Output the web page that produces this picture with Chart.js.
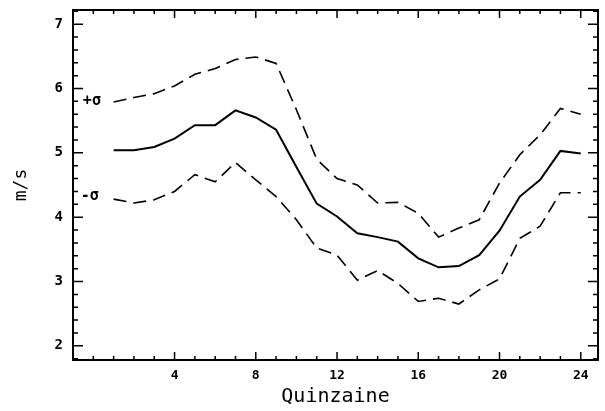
<!DOCTYPE html>
<html>
<head>
<meta charset="utf-8">
<script src="https://cdn.jsdelivr.net/npm/chart.js@4/dist/chart.umd.min.js"></script>
<style>
  body { margin: 0; background: #fff; }
  canvas { display: block; }
</style>
</head>
<body>
<canvas id="chart" width="605" height="411"></canvas>
<script>
// Data
const quinzaine = [1, 2, 3, 4, 5, 6, 7, 8, 9, 10, 11, 12, 13, 14, 15, 16, 17, 18, 19, 20, 21, 22, 23, 24];
const meanSpeed = [5.04, 5.04, 5.09, 5.22, 5.43, 5.43, 5.66, 5.55, 5.36, 4.78, 4.21, 4.01, 3.75, 3.69, 3.62, 3.36, 3.22, 3.24, 3.41, 3.79, 4.32, 4.58, 5.03, 4.99];
const plusSigma = [5.79, 5.86, 5.92, 6.04, 6.22, 6.31, 6.45, 6.49, 6.39, 5.67, 4.90, 4.60, 4.50, 4.22, 4.23, 4.06, 3.69, 3.83, 3.96, 4.53, 4.97, 5.28, 5.69, 5.60];
const minusSigma = [4.28, 4.22, 4.27, 4.40, 4.66, 4.55, 4.85, 4.58, 4.32, 3.96, 3.52, 3.41, 3.02, 3.17, 2.97, 2.69, 2.74, 2.65, 2.87, 3.04, 3.67, 3.86, 4.38, 4.38];
const xTicks = [4, 8, 12, 16, 20, 24];
const yTicks = [2, 3, 4, 5, 6, 7];

const FONT = '"DejaVu Sans Mono", monospace';

function points(values) {
    return quinzaine.map((q, i) => ({ x: q, y: values[i] }));
}

// Frame, inward ticks on all four sides, and the sigma labels
const framePlugin = {
    id: 'frame',
    afterDraw(chart) {
        const ctx = chart.ctx;
        const a = chart.chartArea;
        const xs = chart.scales.x;
        const ys = chart.scales.y;
        ctx.save();
        ctx.strokeStyle = '#000';
        ctx.lineWidth = 2;
        ctx.strokeRect(a.left, a.top, a.right - a.left, a.bottom - a.top);

        ctx.lineWidth = 1.5;
        ctx.beginPath();
        // x ticks, every unit, major at labelled values
        for (let v = 0; v <= 24; v++) {
            const px = xs.getPixelForValue(v);
            const len = xTicks.includes(v) ? 8 : 4;
            ctx.moveTo(px, a.bottom); ctx.lineTo(px, a.bottom - len);
            ctx.moveTo(px, a.top); ctx.lineTo(px, a.top + len);
        }
        // y ticks, every 0.2, major at labelled values
        for (let k = 18; k <= 72; k += 2) {
            const v = k / 10;
            const py = ys.getPixelForValue(v);
            const len = k % 10 === 0 ? 10 : 5;
            ctx.moveTo(a.left, py); ctx.lineTo(a.left + len, py);
            ctx.moveTo(a.right, py); ctx.lineTo(a.right - len, py);
        }
        ctx.stroke();

        ctx.fillStyle = '#000';
        ctx.font = 'bold 15px ' + FONT;
        ctx.textAlign = 'center';
        ctx.textBaseline = 'middle';
        ctx.fillText('+\u03c3', xs.getPixelForValue(-0.07), ys.getPixelForValue(5.80));
        ctx.fillText('-\u03c3', xs.getPixelForValue(-0.17), ys.getPixelForValue(4.33));
        ctx.restore();
    }
};

const dashed = [13, 7];

function noPadding(s) {
    s.paddingTop = 0; s.paddingBottom = 0; s.paddingLeft = 0; s.paddingRight = 0;
}

new Chart(document.getElementById('chart'), {
    type: 'line',
    data: {
        datasets: [
            { data: points(meanSpeed), borderColor: '#000', borderWidth: 2 },
            { data: points(plusSigma), borderColor: '#000', borderWidth: 1.6, borderDash: dashed },
            { data: points(minusSigma), borderColor: '#000', borderWidth: 1.6, borderDash: dashed }
        ]
    },
    options: {
        responsive: false,
        animation: false,
        events: [],
        layout: { padding: { top: 10, right: 7, left: 0, bottom: 0 } },
        elements: { point: { radius: 0 }, line: { tension: 0 } },
        plugins: { legend: { display: false }, tooltip: { enabled: false } },
        scales: {
            x: {
                type: 'linear',
                min: -1,
                max: 24.85,
                grid: { display: false, drawTicks: false },
                border: { display: false },
                afterBuildTicks: s => { s.ticks = xTicks.map(v => ({ value: v })); },
                afterFit: s => { s.height = 51; noPadding(s); },
                ticks: {
                    padding: 8,
                    color: '#000',
                    font: { family: FONT, size: 13, weight: 'bold' },
                    maxRotation: 0
                },
                title: {
                    display: true,
                    text: 'Quinzaine',
                    color: '#000',
                    font: { family: FONT, size: 20 },
                    padding: { top: 0, bottom: 2 }
                }
            },
            y: {
                min: 1.78,
                max: 7.22,
                grid: { display: false, drawTicks: false },
                border: { display: false },
                afterBuildTicks: s => { s.ticks = yTicks.map(v => ({ value: v })); },
                afterFit: s => { s.width = 73; noPadding(s); },
                ticks: {
                    padding: 10,
                    color: '#000',
                    font: { family: FONT, size: 14, weight: 'bold' }
                },
                title: {
                    display: true,
                    text: 'm/s',
                    color: '#000',
                    font: { family: FONT, size: 18 },
                    padding: { top: 11, bottom: 0 }
                }
            }
        }
    },
    plugins: [framePlugin]
});
</script>
</body>
</html>
